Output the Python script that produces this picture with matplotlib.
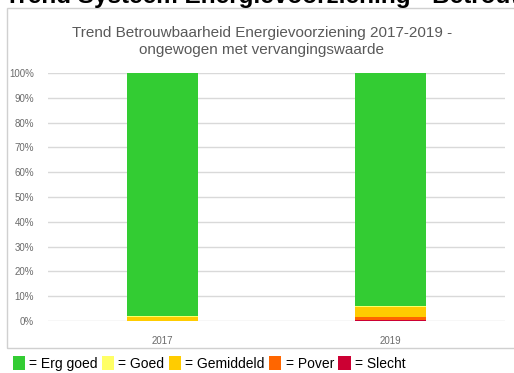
import numpy as np
import matplotlib.pyplot as plt
from matplotlib.patches import Rectangle

# data (percentages per jaar)
jaren = ['2017', '2019']
slecht = [0.0, 0.6]
pover = [0.1, 1.0]
gemiddeld = [1.6, 4.2]
goed = [0.3, 0.3]
erg_goed = [98.0, 93.9]

categorieen = ['Slecht', 'Pover', 'Gemiddeld', 'Goed', 'Erg goed']
kleuren = ['#CC0033', '#FF6600', '#FFCC00', '#FFFF66', '#33CC33']
reeksen = [slecht, pover, gemiddeld, goed, erg_goed]

plt.rcParams['font.family'] = ['Liberation Sans', 'DejaVu Sans']

fig = plt.figure(figsize=(5.14, 3.73), dpi=100)

# kader rond de grafiek
fig.patches.append(Rectangle((7 / 514, 1 - 348 / 373), 520 / 514, 340 / 373,
                             transform=fig.transFigure, fill=False,
                             edgecolor='#d0d0d0', linewidth=1))

# afgesneden kop bovenaan
fig.text(5 / 514, 1 - 3.5 / 373, 'Trend Systeem Energievoorziening - Betrouwbaarheid',
         fontsize=17.5, fontweight='bold', color='black', ha='left', va='baseline')

ax = fig.add_axes([48 / 514, 1 - 321 / 373, 457 / 514, (321 - 73) / 373])

x = np.arange(len(jaren))
onder = np.zeros(len(jaren))
handles = []
for naam, waarden, kleur in zip(categorieen, reeksen, kleuren):
    w = np.array(waarden) / 100
    b = ax.bar(x, w, width=0.31, bottom=onder, color=kleur, label='= ' + naam, zorder=3)
    onder += w
    handles.append(b)

ax.set_xlim(-0.5, 1.5)
ax.set_ylim(0, 1)
ax.set_yticks(np.arange(0, 1.01, 0.1))
ax.set_yticklabels([f'{int(round(v * 100))}%' for v in np.arange(0, 1.01, 0.1)])
ax.set_xticks(x)
ax.set_xticklabels(jaren)
ax.tick_params(axis='both', length=0, labelsize=7, colors='#6b6b6b')
ax.tick_params(axis='y', pad=10)
ax.tick_params(axis='x', pad=11)
ax.grid(axis='y', color='#d9d9d9', linewidth=1, zorder=0)
for s in ax.spines.values():
    s.set_visible(False)

ax.set_title('Trend Betrouwbaarheid Energievoorziening 2017-2019 -\nongewogen met vervangingswaarde',
             fontsize=11, color='#595959', pad=14, linespacing=1.25, x=0.468)

# legenda onderaan (Erg goed eerst)
fig.legend(handles[::-1], ['= ' + c for c in categorieen[::-1]], loc='lower left',
           bbox_to_anchor=(0.0, -0.027), ncol=5, frameon=False, fontsize=10,
           handlelength=0.9, handleheight=1.1, handletextpad=0.3, columnspacing=0.3)

fig.savefig('out.png', dpi=100)
